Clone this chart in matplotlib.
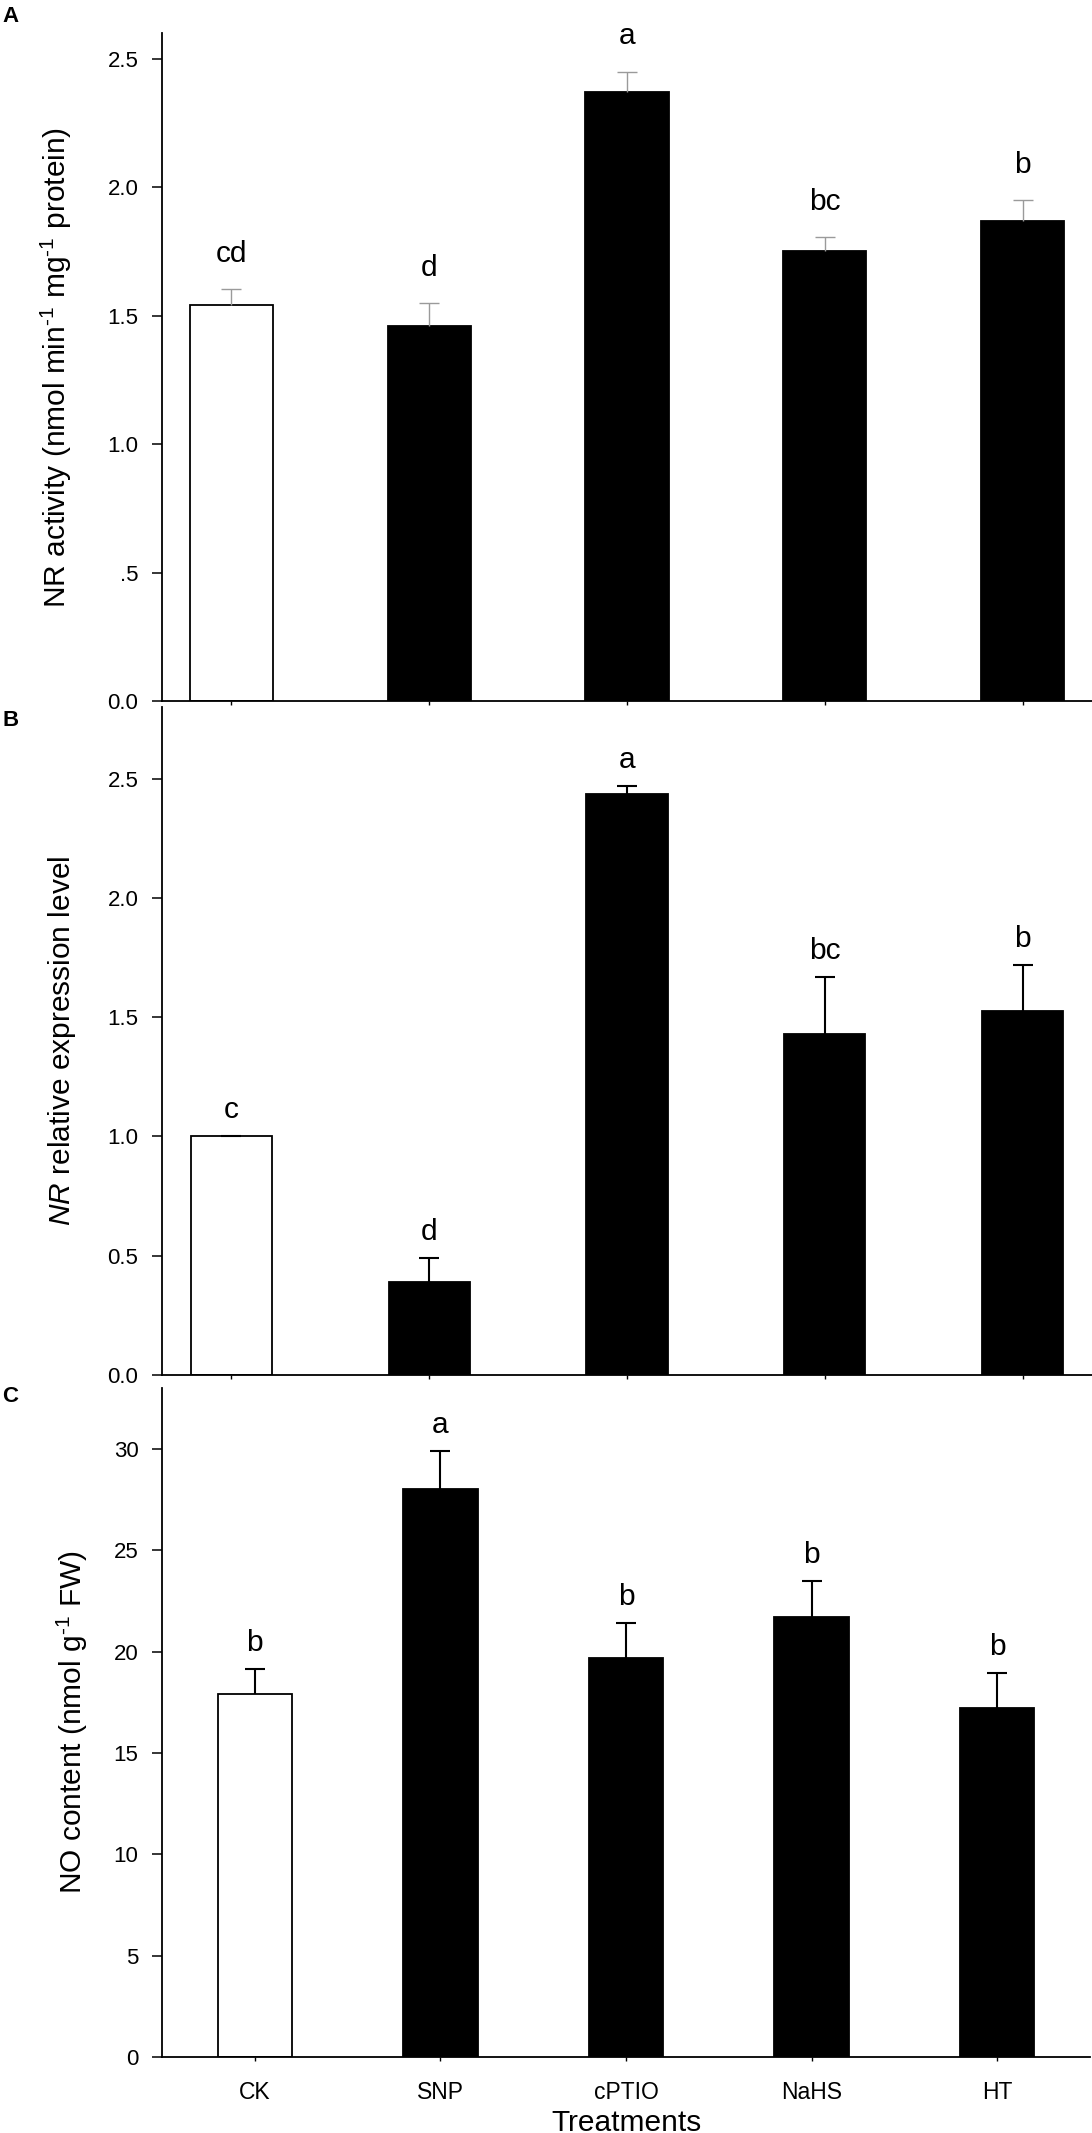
import matplotlib
matplotlib.use("Agg")
import matplotlib.pyplot as plt
import numpy as np

plt.rcParams['font.family'] = ['Liberation Sans', 'DejaVu Sans']
plt.rcParams['mathtext.fontset'] = 'custom'
plt.rcParams['mathtext.rm'] = 'Liberation Sans'
plt.rcParams['mathtext.it'] = 'Liberation Sans:italic'

treatments = ["CK", "SNP", "cPTIO", "NaHS", "HT"]

# panel A - NR activity
nr_activity = [1.54, 1.46, 2.37, 1.75, 1.87]
nr_activity_err = [0.062, 0.09, 0.08, 0.057, 0.08]
nr_activity_letters = ["cd", "d", "a", "bc", "b"]

# panel B - NR expression
nr_expr = [1.00, 0.39, 2.435, 1.43, 1.525]
nr_expr_err = [0.0, 0.10, 0.035, 0.24, 0.195]
nr_expr_letters = ["c", "d", "a", "bc", "b"]

# panel C - NO content
no_content = [17.9, 28.0, 19.7, 21.7, 17.2]
no_content_err = [1.22, 1.9, 1.7, 1.77, 1.73]
no_content_letters = ["b", "a", "b", "b", "b"]

W, H = 1092, 2133
fig = plt.figure(figsize=(W / 100, H / 100), dpi=100)

def px_axes(left, top, right, bottom):
    return fig.add_axes([left / W, 1 - bottom / H, (right - left) / W, (bottom - top) / H])

def draw_panel(ax, vals, errs, letters, ylim, yticks, yticklabels, xlim, width,
               errcolor, errlw, letter_off, show_xlabels):
    x = np.arange(len(vals))
    vals = np.array(vals)
    errs = np.array(errs)
    colors = ["white"] + ["black"] * (len(vals) - 1)
    ax.bar(x, vals, width=width, color=colors, edgecolor="black", linewidth=1.3, zorder=2)
    # upper error bars only, cap only at the top
    ax.vlines(x, vals, vals + errs, color=errcolor, linewidth=errlw, zorder=3)
    ax.plot(x, vals + errs, ls="none", marker="_", ms=15, mew=errlw, color=errcolor, zorder=3)
    for xi, v, e, lab in zip(x, vals, errs, letters):
        ax.annotate(lab, (xi, v + e), xytext=(0, letter_off), textcoords="offset points",
                    ha="center", va="baseline", fontsize=21.5)
    ax.set_xlim(*xlim)
    ax.set_ylim(*ylim)
    ax.set_yticks(yticks)
    ax.set_yticklabels(yticklabels)
    ax.set_xticks(x)
    if show_xlabels:
        ax.set_xticklabels(treatments)
    else:
        ax.set_xticklabels([])
    for s in ["top", "right"]:
        ax.spines[s].set_visible(False)
    for s in ["left", "bottom"]:
        ax.spines[s].set_linewidth(1.3)
    ax.tick_params(axis="y", direction="out", length=7, width=1.1, pad=10, labelsize=16)
    ax.tick_params(axis="x", direction="out", length=3, width=1.0, pad=14, labelsize=16.5)

axA = px_axes(162, 33, 1092, 701)
draw_panel(axA, nr_activity, nr_activity_err, nr_activity_letters, (0, 2.6),
           [0, 0.5, 1.0, 1.5, 2.0, 2.5], ["0.0", ".5", "1.0", "1.5", "2.0", "2.5"],
           (-0.35, 4.35), 0.42, "#9a9a9a", 1.0, 19.5, False)
axA.set_ylabel(r"NR activity (nmol min$^{\text{-1}}$ mg$^{\text{-1}}$ protein)", fontsize=21.5)
axA.yaxis.label.set_verticalalignment("center")
axA.yaxis.set_label_coords(-0.114, 0.5)

axB = px_axes(162, 707, 1092, 1375)
draw_panel(axB, nr_expr, nr_expr_err, nr_expr_letters, (0, 2.8),
           [0, 0.5, 1.0, 1.5, 2.0, 2.5], ["0.0", "0.5", "1.0", "1.5", "2.0", "2.5"],
           (-0.35, 4.35), 0.41, "black", 1.5, 13, False)
axB.set_ylabel(r"$\mathit{NR}$ relative expression level", fontsize=21.5)
axB.yaxis.label.set_verticalalignment("center")
axB.yaxis.set_label_coords(-0.1075, 0.5)

axC = px_axes(162, 1388, 1090, 2057)
draw_panel(axC, no_content, no_content_err, no_content_letters, (0, 33),
           [0, 5, 10, 15, 20, 25, 30], ["0", "5", "10", "15", "20", "25", "30"],
           (-0.5, 4.5), 0.40, "black", 1.5, 13, True)
axC.set_ylabel(r"NO content (nmol g$^{\text{-1}}$ FW)", fontsize=21.5)
axC.yaxis.label.set_verticalalignment("center")
axC.yaxis.set_label_coords(-0.097, 0.5)
axC.set_xlabel("Treatments", fontsize=21.5, labelpad=4)

for lab, ypx in [("A", 17), ("B", 721), ("C", 1397)]:
    fig.text(2 / W, 1 - ypx / H, lab, fontsize=16, fontweight="bold", ha="left", va="center")

fig.savefig("out.png", dpi=100)
